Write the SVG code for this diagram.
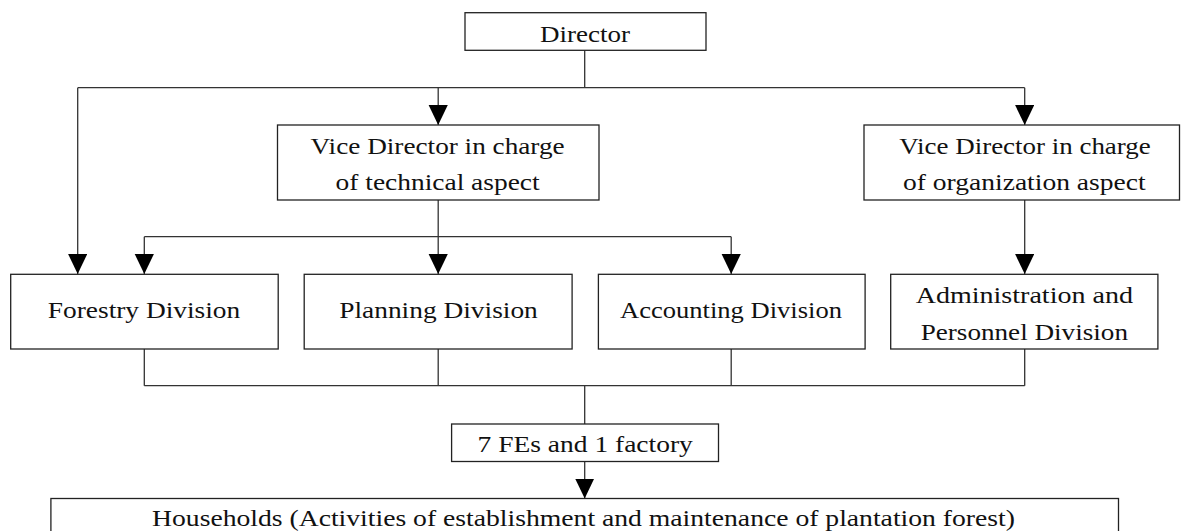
<svg xmlns="http://www.w3.org/2000/svg" width="1181" height="531" viewBox="0 0 1181 531">
  <defs>
    <style>
      .box { fill: #ffffff; stroke: #222222; stroke-width: 1.3; }
      .link { fill: none; stroke: #333333; stroke-width: 1.3; }
      .arrow { marker-end: url(#head); }
      .label { font-family: "Liberation Serif", "DejaVu Serif", serif; font-size: 24px; fill: #111111; text-anchor: middle; }
    </style>
    <marker id="head" markerUnits="userSpaceOnUse" markerWidth="20" markerHeight="20" refX="20" refY="9.6" orient="auto">
      <path d="M0,0 L20,9.6 L0,19.2 Z" fill="#000000"/>
    </marker>
  </defs>

  <rect width="1181" height="531" fill="#ffffff"/>

  <!-- connectors -->
  <g id="connectors">
    <!-- Director to first tier -->
    <path class="link" d="M584.7,50.3 V87.7 M77.7,87.7 H1024.7"/>
    <path class="link arrow" d="M77.7,87.7 V274"/>
    <path class="link arrow" d="M438.2,87.7 V125"/>
    <path class="link arrow" d="M1024.7,87.7 V125"/>
    <!-- technical vice director to divisions -->
    <path class="link" d="M144.3,236.7 H731.2"/>
    <path class="link arrow" d="M438.2,200 V274"/>
    <path class="link arrow" d="M144.3,236.7 V274"/>
    <path class="link arrow" d="M731.2,236.7 V274"/>
    <!-- organization vice director to administration -->
    <path class="link arrow" d="M1024.7,200 V274"/>
    <!-- divisions merge into the FEs -->
    <path class="link" d="M144.3,349 V385.7 M438.2,349 V385.7 M731.2,349 V385.7 M1024.7,349 V385.7 M144.3,385.7 H1024.7 M584.7,385.7 V424"/>
    <path class="link arrow" d="M584.7,461.5 V498.5"/>
  </g>

  <!-- labels are widened 10% horizontally to get the broad serif proportions -->
  <g id="director">
    <rect class="box" x="465" y="12.7" width="241" height="37.6"/>
    <text class="label" transform="translate(585 41.5) scale(1.1 1)" textLength="81.8" lengthAdjust="spacingAndGlyphs">Director</text>
  </g>

  <g id="vice-technical">
    <rect class="box" x="277.5" y="125" width="321.5" height="75"/>
    <text class="label" transform="translate(437.6 153.5) scale(1.1 1)" textLength="230.9" lengthAdjust="spacingAndGlyphs">Vice Director in charge</text>
    <text class="label" transform="translate(437.6 189.5) scale(1.1 1)" textLength="185.5" lengthAdjust="spacingAndGlyphs">of technical aspect</text>
  </g>

  <g id="vice-organization">
    <rect class="box" x="864" y="125" width="315.5" height="75"/>
    <text class="label" transform="translate(1025 153.5) scale(1.1 1)" textLength="228.6" lengthAdjust="spacingAndGlyphs">Vice Director in charge</text>
    <text class="label" transform="translate(1024.3 189.5) scale(1.1 1)" textLength="220.5" lengthAdjust="spacingAndGlyphs">of organization aspect</text>
  </g>

  <g id="forestry">
    <rect class="box" x="10.7" y="274.3" width="267.5" height="74.7"/>
    <text class="label" transform="translate(144 317.7) scale(1.1 1)" textLength="175" lengthAdjust="spacingAndGlyphs">Forestry Division</text>
  </g>

  <g id="planning">
    <rect class="box" x="304.2" y="274.3" width="267.9" height="74.7"/>
    <text class="label" transform="translate(438.5 317.7) scale(1.1 1)" textLength="180.5" lengthAdjust="spacingAndGlyphs">Planning Division</text>
  </g>

  <g id="accounting">
    <rect class="box" x="598.4" y="274.3" width="266.7" height="74.7"/>
    <text class="label" transform="translate(731 317.7) scale(1.1 1)" textLength="201.8" lengthAdjust="spacingAndGlyphs">Accounting Division</text>
  </g>

  <g id="administration">
    <rect class="box" x="890.7" y="274.3" width="267.2" height="74.7"/>
    <text class="label" transform="translate(1024.3 303.3) scale(1.1 1)" textLength="197.6" lengthAdjust="spacingAndGlyphs">Administration and</text>
    <text class="label" transform="translate(1024.3 340) scale(1.1 1)" textLength="188.5" lengthAdjust="spacingAndGlyphs">Personnel Division</text>
  </g>

  <g id="enterprises">
    <rect class="box" x="451.6" y="424" width="266.9" height="37.5"/>
    <text class="label" transform="translate(585.2 452) scale(1.1 1)" textLength="195.7" lengthAdjust="spacingAndGlyphs">7 FEs and 1 factory</text>
  </g>

  <g id="households">
    <rect class="box" x="50.9" y="498.5" width="1067.6" height="60"/>
    <text class="label" transform="translate(583.5 526.2) scale(1.1 1)" textLength="784.5" lengthAdjust="spacingAndGlyphs">Households (Activities of establishment and maintenance of plantation forest)</text>
  </g>
</svg>
